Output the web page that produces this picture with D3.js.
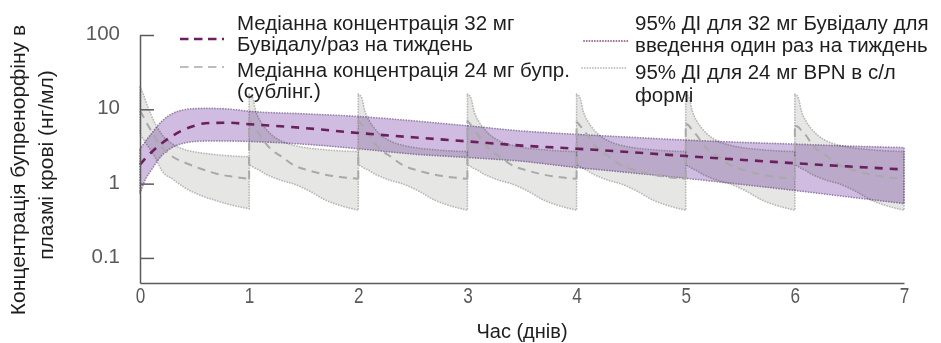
<!DOCTYPE html>
<html><head><meta charset="utf-8">
<script src="https://cdn.jsdelivr.net/npm/d3@7"></script>
<style>
body{margin:0;background:#fff;}
svg{display:block;font-family:"Liberation Sans",Arial,Helvetica,sans-serif;}
</style></head><body>
<svg id="chart" width="941" height="343"></svg>
<script>
// ---------- DATA ----------
const xTicks = [0, 1, 2, 3, 4, 5, 6, 7];
const yTicks = [0.1, 1, 10, 100];
const yTickLabels = ["0.1", "1", "10", "100"];

// Buvidal 32 mg once weekly (days)
const bvTime   = [0, 0.05, 0.1, 0.2, 0.3, 0.4, 0.5, 0.6, 0.8, 1.0, 1.5, 2.0, 2.5, 3.0, 3.5, 4.0, 4.5, 5.0, 5.5, 6.0, 6.5, 7.0];
const bvMedian = [1.8, 2.2, 2.6, 3.5, 4.4, 5.3, 6.0, 6.5, 6.6, 6.3, 5.6, 4.8, 4.2, 3.7, 3.25, 2.95, 2.65, 2.35, 2.1, 1.88, 1.7, 1.55];
const bvUpper  = [2.9, 3.7, 4.6, 6.9, 8.8, 9.8, 10.2, 10.3, 10.1, 9.4, 8.7, 8.0, 7.0, 6.0, 5.1, 4.6, 4.2, 3.85, 3.6, 3.4, 3.2, 3.05];
const bvLower  = [0.74, 1.15, 1.5, 2.4, 3.1, 3.5, 3.7, 3.75, 3.75, 3.7, 3.4, 2.95, 2.5, 2.25, 2.0, 1.65, 1.4, 1.18, 0.98, 0.81, 0.66, 0.54];

// Sublingual BPN 24 mg daily: time after each daily dose (days)
const slDoseDays = [0, 1, 2, 3, 4, 5, 6];
const slTau = [0, 0.03, 0.06, 0.1, 0.15, 0.2, 0.3, 0.4, 0.55, 0.7, 0.85, 1.0];
const slMedian = [
  [9.5, 8.0, 6.6, 5.2, 3.9, 3.1, 2.3, 1.95, 1.6, 1.36, 1.24, 1.16],
  [7.4, 6.3, 5.4, 4.5, 3.5, 2.9, 2.3, 1.8, 1.5, 1.32, 1.22, 1.16],
  [7.2, 6.2, 5.3, 4.5, 3.5, 2.9, 2.3, 1.8, 1.5, 1.32, 1.22, 1.16],
  [7.0, 6.2, 5.3, 4.5, 3.5, 2.9, 2.3, 1.8, 1.5, 1.32, 1.22, 1.16],
  [6.8, 6.1, 5.3, 4.5, 3.5, 2.9, 2.3, 1.8, 1.5, 1.32, 1.22, 1.16],
  [6.4, 6.0, 5.2, 4.5, 3.5, 2.9, 2.3, 1.8, 1.5, 1.32, 1.22, 1.16],
  [6.0, 5.8, 5.2, 4.5, 3.5, 2.9, 2.3, 1.8, 1.5, 1.32, 1.22, 1.16]
];
const slUpper = [
  [20, 16, 12, 8.5, 6.0, 4.6, 3.4, 2.9, 2.6, 2.45, 2.35, 2.3],
  [16, 14.5, 9.5, 7.0, 5.5, 4.6, 3.7, 3.3, 3.0, 2.85, 2.75, 2.7],
  [16, 14.5, 9.5, 7.0, 5.5, 4.6, 3.7, 3.3, 3.0, 2.85, 2.75, 2.7],
  [16, 14.5, 9.5, 7.0, 5.5, 4.6, 3.7, 3.3, 3.0, 2.85, 2.75, 2.7],
  [16, 14.5, 9.5, 7.0, 5.5, 4.6, 3.7, 3.3, 3.0, 2.85, 2.75, 2.7],
  [16, 14.5, 9.5, 7.0, 5.5, 4.6, 3.7, 3.3, 3.0, 2.85, 2.75, 2.7],
  [16, 14.5, 9.5, 7.0, 5.5, 4.6, 3.7, 3.3, 3.0, 2.85, 2.75, 2.7]
];
const slLower = [
  [4.5, 4.0, 3.4, 2.8, 2.1, 1.5, 1.15, 0.9, 0.7, 0.59, 0.51, 0.46],
  [1.8, 1.7, 1.6, 1.5, 1.35, 1.25, 1.1, 1.0, 0.8, 0.6, 0.5, 0.44],
  [1.8, 1.7, 1.6, 1.5, 1.35, 1.25, 1.1, 1.0, 0.8, 0.6, 0.5, 0.44],
  [1.8, 1.7, 1.6, 1.5, 1.35, 1.25, 1.1, 1.0, 0.8, 0.6, 0.5, 0.44],
  [1.8, 1.7, 1.6, 1.5, 1.35, 1.25, 1.1, 1.0, 0.8, 0.6, 0.5, 0.44],
  [1.8, 1.7, 1.6, 1.5, 1.35, 1.25, 1.1, 1.0, 0.8, 0.6, 0.5, 0.44],
  [1.8, 1.7, 1.6, 1.5, 1.35, 1.25, 1.1, 1.0, 0.8, 0.6, 0.5, 0.44]
];

const legendLabels = [
  ["Медіанна концентрація 32 мг", "Бувідалу/раз на тиждень"],
  ["Медіанна концентрація 24 мг бупр.", "(сублінг.)"],
  ["95% ДІ для 32 мг Бувідалу для", "введення один раз на тиждень"],
  ["95% ДІ для 24 мг BPN в с/л", "формі"]
];
const xTitle = "Час (днів)";
const yTitle = ["Концентрація бупренорфіну в", "плазмі крові (нг/мл)"];

// ---------- CHART ----------
const svg = d3.select("#chart");
const x = d3.scaleLinear().domain([0, 7]).range([140, 904]);
const y = d3.scaleLog().domain([0.046, 100]).range([283, 35]);

const C = {
  purpleLine: "#6b1f5e", purpleFill: "#cfbce0", purpleEdge: "#9a86ae",
  grayLine: "#a9a9a9", grayFill: "#e6e6e4", grayEdge: "#bababa",
  axis: "#5a5a5a", tick: "#5a5a5a", text: "#1e1e1e"
};

const area = d3.area().x(d => x(d.t)).y0(d => y(d.lo)).y1(d => y(d.hi)).curve(d3.curveMonotoneX);
const line = d3.line().x(d => x(d.t)).y(d => y(d.v)).curve(d3.curveMonotoneX);

const plot = svg.append("g");

// Sublingual CI areas
slDoseDays.forEach((d, i) => {
  const pts = slTau.map((tau, j) => ({ t: d + tau, lo: slLower[i][j], hi: slUpper[i][j] }));
  plot.append("path").attr("d", area(pts))
    .attr("fill", C.grayFill).attr("stroke", C.grayEdge)
    .attr("stroke-width", 1.8).attr("stroke-dasharray", "0.1,2.6").attr("stroke-linecap", "round")
    .style("mix-blend-mode", "multiply");
});

// Buvidal CI area
const bvPts = bvTime.map((t, i) => ({ t, lo: bvLower[i], hi: bvUpper[i] }));
plot.append("path").attr("d", area(bvPts))
  .attr("fill", C.purpleFill).attr("stroke", C.purpleEdge)
  .attr("stroke-width", 1.8).attr("stroke-dasharray", "0.1,2.6").attr("stroke-linecap", "round")
  .style("mix-blend-mode", "multiply");

// Sublingual median
slDoseDays.forEach((d, i) => {
  const pts = slTau.map((tau, j) => ({ t: d + tau, v: slMedian[i][j] }));
  if (i > 0) {
    plot.append("line")
      .attr("x1", x(d)).attr("x2", x(d))
      .attr("y1", y(slMedian[i - 1][slTau.length - 1])).attr("y2", y(slMedian[i][0]))
      .attr("stroke", C.grayLine).attr("stroke-width", 2).attr("stroke-dasharray", "8,6");
  }
  plot.append("path").attr("d", line(pts)).attr("fill", "none")
    .attr("stroke", C.grayLine).attr("stroke-width", 2).attr("stroke-dasharray", "8,6");
});

// Buvidal median
plot.append("path")
  .attr("d", line(bvTime.map((t, i) => ({ t, v: bvMedian[i] }))))
  .attr("fill", "none").attr("stroke", C.purpleLine).attr("stroke-width", 2.6)
  .attr("stroke-dasharray", "8,7");

// Axes
const xAxis = d3.axisBottom(x).tickValues(xTicks).tickFormat(d3.format("d"))
  .tickSize(0).tickPadding(4);
const gx = svg.append("g").attr("transform", "translate(0,283)").call(xAxis);
gx.select(".domain").attr("stroke", C.axis).attr("stroke-width", 1.5);
gx.selectAll("text").attr("fill", C.tick).attr("font-size", 22)
  .attr("font-family", "'Liberation Sans Narrow','Liberation Sans',Arial,sans-serif")
  .attr("transform", "scale(0.78,1)");

const yAxis = d3.axisLeft(y).tickValues(yTicks).tickFormat((d, i) => yTickLabels[i])
  .tickSizeInner(-14).tickSizeOuter(0).tickPadding(20);
const gy = svg.append("g").attr("transform", "translate(140,0)").call(yAxis);
gy.select(".domain").attr("stroke", C.axis).attr("stroke-width", 1.5);
gy.selectAll(".tick line").attr("stroke", C.axis).attr("stroke-width", 1.5);
gy.selectAll("text").attr("fill", C.tick).attr("font-size", 20.5).attr("dy", "0.22em");

// Axis titles
svg.append("text").attr("x", 522).attr("y", 338).attr("text-anchor", "middle")
  .attr("font-size", 20).attr("fill", C.text).text(xTitle);

const yt = svg.append("g");
yt.append("text").attr("transform", "translate(25,170) rotate(-90)").attr("text-anchor", "middle")
  .attr("font-size", 21).attr("fill", C.text).text(yTitle[0]);
yt.append("text").attr("transform", "translate(53,165) rotate(-90)").attr("text-anchor", "middle")
  .attr("font-size", 21).attr("fill", C.text).text(yTitle[1]);

// Legend
const legend = svg.append("g").attr("font-size", 20.5).attr("fill", C.text);
const legendItems = [
  { sx: 180, sy: 39, tx: 237, base: [30, 51], stroke: C.purpleLine, w: 2.6, dash: "8.5,5.5" },
  { sx: 180, sy: 67, tx: 237, base: [77, 98], stroke: "#bdbdbd", w: 2, dash: "8.5,5.5" },
  { sx: 584, sy: 41, tx: 635, base: [30, 52], stroke: "#a0689e", w: 1.8, dash: "0.1,2.6", cap: "round" },
  { sx: 582, sy: 68, tx: 635, base: [79, 102], stroke: "#c4c4c4", w: 1.8, dash: "0.1,2.6", cap: "round" }
];
legendItems.forEach((it, i) => {
  legend.append("line").attr("x1", it.sx).attr("x2", it.sx + 44).attr("y1", it.sy).attr("y2", it.sy)
    .attr("stroke", it.stroke).attr("stroke-width", it.w).attr("stroke-dasharray", it.dash)
    .attr("stroke-linecap", it.cap || "butt");
  legendLabels[i].forEach((s, k) => {
    legend.append("text").attr("x", it.tx).attr("y", it.base[k]).text(s);
  });
});
</script>
</body></html>
